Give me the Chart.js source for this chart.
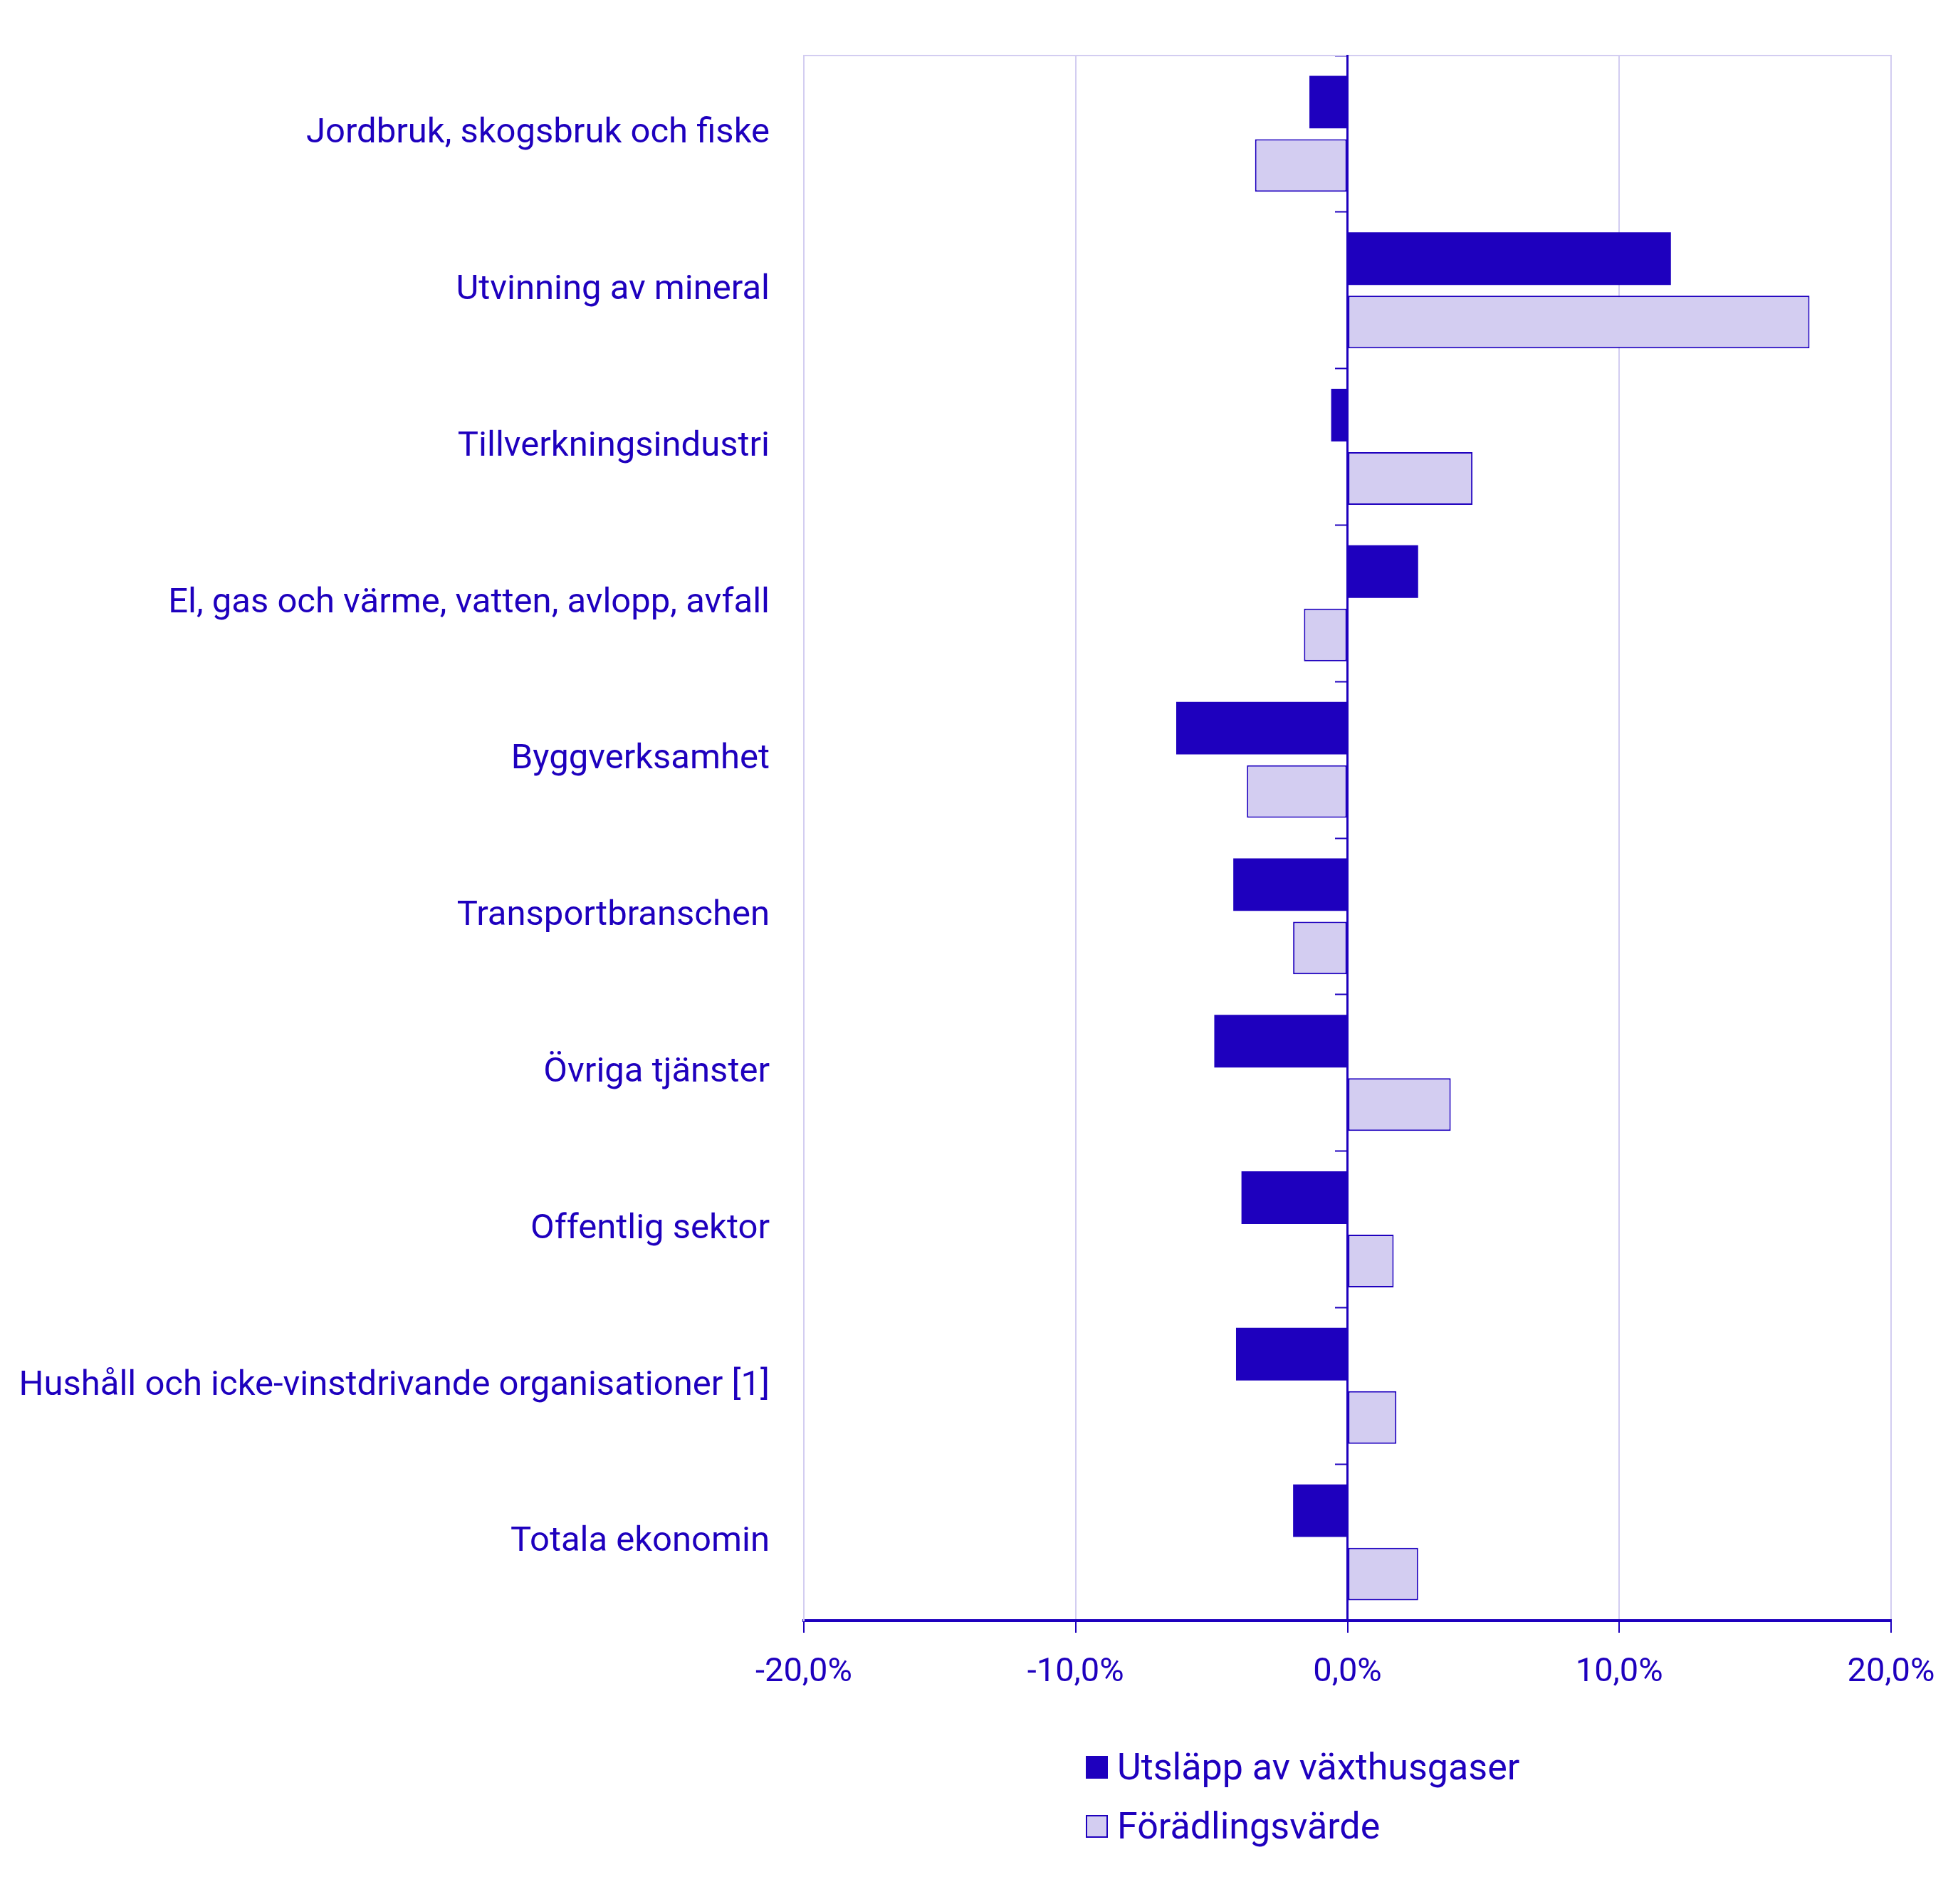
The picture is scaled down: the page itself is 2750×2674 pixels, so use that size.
<!DOCTYPE html>
<html>
<head>
<meta charset="utf-8">
<script src="https://cdn.jsdelivr.net/npm/chart.js@4.4.1/dist/chart.umd.min.js"></script>
<style>
  html, body { margin: 0; padding: 0; background: #fff; }
  #wrap { position: relative; width: 2750px; height: 2674px; }
  #chart { position: absolute; left: 0; top: 0; }
  #legend { position: absolute; left: 1525px; top: 2440px; font-family: Roboto, sans-serif; font-size: 52px; color: #1e00be; }
  .item { display: flex; align-items: center; height: 83px; }
  .box { width: 31px; height: 32px; margin-right: 13px; box-sizing: border-box; border: 2px solid #1e00be; }
</style>
</head>
<body>
<div id="wrap">
  <canvas id="chart" width="2750" height="2400"></canvas>
  <div id="legend"></div>
</div>
<script>
// Data
const categories = [
  "Jordbruk, skogsbruk och fiske",
  "Utvinning av mineral",
  "Tillverkningsindustri",
  "El, gas och värme, vatten, avlopp, avfall",
  "Byggverksamhet",
  "Transportbranschen",
  "Övriga tjänster",
  "Offentlig sektor",
  "Hushåll och icke-vinstdrivande organisationer [1]",
  "Totala ekonomin"
];
const seriesNames = ["Utsläpp av växthusgaser", "Förädlingsvärde"];
const utslapp   = [-1.4, 11.9, -0.6, 2.6, -6.3, -4.2, -4.9, -3.9, -4.1, -2.0];
const foradling = [-3.4, 17.0, 4.6, -1.6, -3.7, -2.0, 3.8, 1.7, 1.8, 2.6];
const xMin = -20, xMax = 20, xStep = 10;

// Colours
const DARK = "#1e00be";
const LIGHT = "#d3cdf1";
const FONT = "Roboto";

const fmt = (v) => v.toFixed(1).replace(".", ",") + "%";

const ctx = document.getElementById("chart").getContext("2d");
const chart = new Chart(ctx, {
  type: "bar",
  data: {
    labels: categories,
    datasets: [
      { label: seriesNames[0], data: utslapp, backgroundColor: DARK, borderColor: DARK, borderWidth: 0 },
      { label: seriesNames[1], data: foradling, backgroundColor: LIGHT, borderColor: DARK, borderWidth: 2, borderSkipped: false }
    ]
  },
  options: {
    indexAxis: "y",
    responsive: false,
    animation: false,
    devicePixelRatio: 1,
    categoryPercentage: 0.81,
    barPercentage: 0.83,
    layout: { padding: { top: 78, right: 94, left: 0, bottom: 0 } },
    plugins: { legend: { display: false }, tooltip: { enabled: false } },
    scales: {
      x: {
        type: "linear",
        min: xMin, max: xMax,
        ticks: { stepSize: xStep, callback: fmt, color: DARK, font: { family: FONT, size: 47 }, padding: 28, maxRotation: 0 },
        grid: { color: LIGHT, lineWidth: 2, tickColor: DARK, tickLength: 17, tickWidth: 2 },
        border: { color: DARK, width: 4 },
        afterFit: (s) => { s.height = 2400 - 2276; }
      },
      x2: {
        type: "linear",
        position: "top",
        min: xMin, max: xMax,
        ticks: { display: false },
        grid: { display: false, drawTicks: false },
        border: { color: LIGHT, width: 2 }
      },
      y: {
        type: "category",
        position: "left",
        offset: true,
        grid: { display: false, drawTicks: false },
        ticks: { color: DARK, font: { family: FONT, size: 49 }, padding: 48 },
        border: { color: LIGHT, width: 2 },
        afterFit: (s) => { s.width = 1129; }
      },
      y2: {
        type: "category",
        position: { x: 0 },
        offset: true,
        grid: { offset: true, drawOnChartArea: false, drawTicks: true, tickLength: 16, tickColor: DARK, tickWidth: 2, color: DARK },
        ticks: { display: false },
        border: { color: DARK, width: 3 }
      }
    }
  }
});

// HTML legend
const legend = document.getElementById("legend");
chart.data.datasets.forEach((ds) => {
  const row = document.createElement("div");
  row.className = "item";
  const box = document.createElement("span");
  box.className = "box";
  box.style.background = ds.backgroundColor;
  const txt = document.createElement("span");
  txt.textContent = ds.label;
  row.appendChild(box);
  row.appendChild(txt);
  legend.appendChild(row);
});
</script>
</body>
</html>
